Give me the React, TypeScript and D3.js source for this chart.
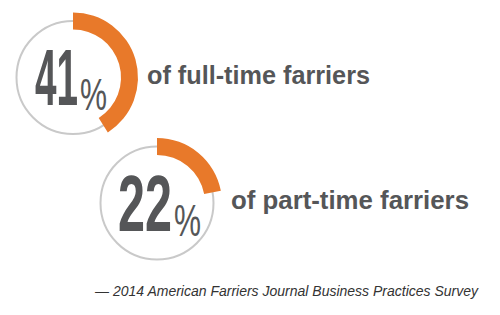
import React from "react";
import * as d3 from "d3";

// ---- data ----
const percents: number[] = [41, 22];
const labels: string[] = ["of full-time farriers", "of part-time farriers"];
const source: string = "— 2014 American Farriers Journal Business Practices Survey";

// ---- layout (not data) ----
const centers = [
  { cx: 73, cy: 77.5 },
  { cx: 157, cy: 203 },
];
const numberLen = [43, 54];
const labelLen = [223, 238];

const ORANGE = "#e8792a";
const RING = "#c9c9c9";
const TEXT = "#555658";

// Liberation Sans metrics (em units)
const DIGIT_W = 0.556;
const PCT_W = 0.889;

export default function App() {
  const W = 500;
  const H = 315;
  const angle = d3.scaleLinear().domain([0, 100]).range([0, 2 * Math.PI]);
  const arc = d3.arc<any>().innerRadius(48).outerRadius(65);

  const numSize = 80;
  const pctSize = 44;

  return (
    <svg
      width={W}
      height={H}
      style={{ position: "absolute", left: 0, top: 0, background: "#fff" }}
      fontFamily="'Liberation Sans', Arial, sans-serif"
    >
      {percents.map((p, i) => {
        const { cx, cy } = centers[i];
        const d = arc({ startAngle: 0, endAngle: angle(p) }) as string;
        const numStr = String(p);
        const nx = cx - 38 + (i === 1 ? -1 : 0);
        const sx = numberLen[i] / (numStr.length * DIGIT_W * numSize);
        const px = nx + numberLen[i] + 2;
        const psx = 27 / (PCT_W * pctSize);
        return (
          <g key={i}>
            <circle cx={cx} cy={cy} r={56.5} fill="none" stroke={RING} strokeWidth={2} />
            <path d={d} transform={`translate(${cx},${cy})`} fill={ORANGE} />
            <text
              transform={`translate(${nx},${cy + 27.5}) scale(${sx},1)`}
              fontSize={numSize}
              fontWeight="bold"
              fill={TEXT}
            >
              {numStr}
            </text>
            <text
              transform={`translate(${px},${cy + 32.5}) scale(${psx},1)`}
              fontSize={pctSize}
              fill={TEXT}
            >
              %
            </text>
            <text
              x={cx + 74}
              y={cy + 6}
              fontSize={25}
              fontWeight="bold"
              fill={TEXT}
              textLength={labelLen[i]}
              lengthAdjust="spacingAndGlyphs"
            >
              {labels[i]}
            </text>
          </g>
        );
      })}
      <text
        x={95}
        y={296}
        fontSize={14}
        fontStyle="italic"
        fill="#333"
        textLength={383}
        lengthAdjust="spacingAndGlyphs"
      >
        {source}
      </text>
    </svg>
  );
}
